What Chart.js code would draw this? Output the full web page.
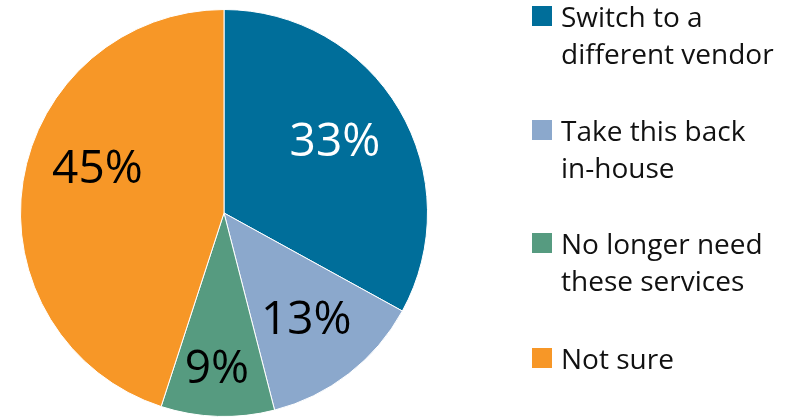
<!DOCTYPE html>
<html><head><meta charset="utf-8">
<script src="https://cdn.jsdelivr.net/npm/chart.js@4.4.0/dist/chart.umd.min.js"></script>
<style>html,body{margin:0;padding:0;background:#fff;}#wrap{width:806px;height:417px;position:relative;}</style>
</head><body><div id="wrap"><canvas id="c" width="806" height="417"></canvas></div>
<script>
const categories = [["Switch to a", "different vendor"], ["Take this back", "in-house"], ["No longer need", "these services"], ["Not sure"]];
const values = [33, 13, 9, 45];
const colors = ["#006E9A", "#8BA8CC", "#569B80", "#F79727"];
const labelColors = ["#ffffff", "#000000", "#000000", "#000000"];

const FONT = "'Open Sans', 'Noto Sans', sans-serif";
// label placement: radial fraction and angular tweak (degrees)
const labelPlace = [[0.65, -2.4], [0.66, 0], [0.76, 0.8], [0.66, 10.5]];

const labelPlugin = {
  id: 'pctLabels',
  afterDatasetsDraw(chart) {
    const ctx = chart.ctx;
    const meta = chart.getDatasetMeta(0);
    ctx.save();
    ctx.font = "46px " + FONT;
    ctx.textAlign = 'center';
    ctx.textBaseline = 'middle';
    meta.data.forEach((arc, i) => {
      const p = arc.getProps(['x','y','startAngle','endAngle','outerRadius'], true);
      const mid = (p.startAngle + p.endAngle) / 2 + labelPlace[i][1] * Math.PI / 180;
      const r = p.outerRadius * labelPlace[i][0];
      ctx.fillStyle = labelColors[i];
      ctx.fillText(values[i] + '%', p.x + Math.cos(mid) * r, p.y + Math.sin(mid) * r + 2);
    });
    ctx.restore();
  }
};

const legendPlugin = {
  id: 'sideLegend',
  afterDraw(chart) {
    const ctx = chart.ctx;
    ctx.save();
    const boxX = 532, textX = 561, tops = [6, 120, 233, 348], lineH = 36.5;
    ctx.font = "28px " + FONT;
    ctx.textBaseline = 'alphabetic';
    ctx.textAlign = 'left';
    categories.forEach((lines, i) => {
      ctx.fillStyle = colors[i];
      ctx.fillRect(boxX, tops[i], 20, 20);
      ctx.fillStyle = '#111';
      lines.forEach((t, j) => ctx.fillText(t, textX, tops[i] + 21 + j * lineH));
    });
    ctx.restore();
  }
};

new Chart(document.getElementById('c'), {
  type: 'pie',
  data: {
    labels: categories.map(l => l.join(' ')),
    datasets: [{
      data: values,
      backgroundColor: colors,
      borderColor: '#ffffff',
      borderWidth: 1
    }]
  },
  options: {
    responsive: false,
    animation: false,
    layout: { padding: { left: 20, right: 378, top: 9, bottom: 0 } },
    plugins: { legend: { display: false }, tooltip: { enabled: false } }
  },
  plugins: [labelPlugin, legendPlugin]
});
</script></body></html>
